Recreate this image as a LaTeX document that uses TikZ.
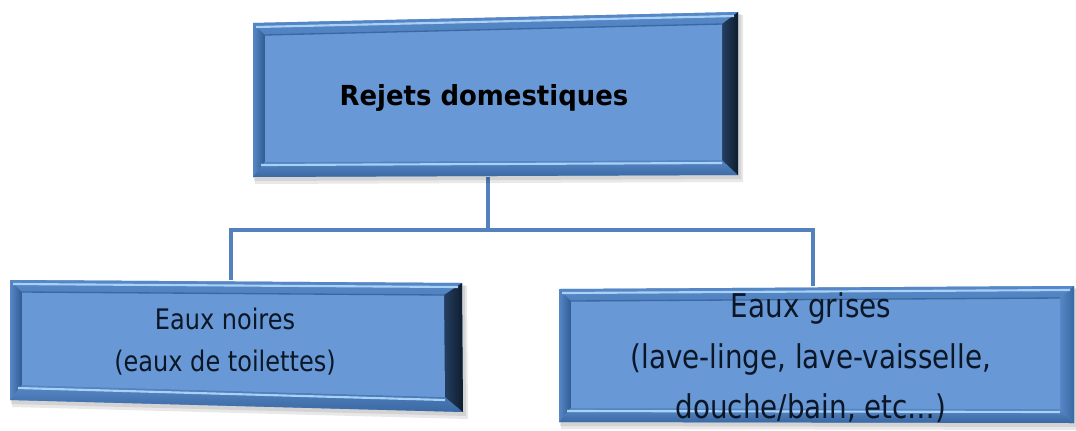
\documentclass[tikz,border=0pt]{standalone}
\usepackage{fontspec}
\setmainfont{DejaVu Sans}
\newfontfamily\boxfont[FakeStretch=0.85]{DejaVu Sans}
\newfontfamily\headfont[FakeStretch=0.94]{DejaVu Sans}
\usetikzlibrary{calc,fit}

\definecolor{face}{HTML}{6898D5}
\definecolor{bevhi}{HTML}{A9D0F5}
\definecolor{bevmid}{HTML}{5687C6}
\definecolor{bevlow}{HTML}{3A68A2}
\definecolor{bevshade}{HTML}{2F5B92}
\definecolor{bevdark}{HTML}{243F62}
\definecolor{bevdeep}{HTML}{0F1C2D}
\definecolor{linkblue}{HTML}{5281BE}
\definecolor{ink}{HTML}{0B1626}

\tikzset{
  boxarea/.style={draw=none, inner sep=0pt},
  link/.style={draw=linkblue, line width=2.3pt},
  boxshadow/.style={fill=black, opacity=0.09},
  bevtop/.style={top color=bevmid, bottom color=bevmid!85!bevlow},
  bevleft/.style={left color=bevmid, right color=bevshade},
  bevbot/.style={top color=bevmid, bottom color=bevlow},
  bevright/.style={left color=bevdark, right color=bevdeep},
  bevrightsoft/.style={left color=bevmid, right color=bevlow},
  hiline/.style={draw=bevhi, line width=1.6pt},
  boxtext/.style={text=ink, align=center, inner sep=0pt},
}

% bevelled panel: corners TL TR BR BL, bevel widths top right bottom left, right-bevel style
\newcommand\bevelpanel[9]{%
  \coordinate (o1) at #1; \coordinate (o2) at #2;
  \coordinate (o3) at #3; \coordinate (o4) at #4;
  \coordinate (i1) at ($(o1)+(#8,#5)$);
  \coordinate (i2) at ($(o2)+(-#6,#5)$);
  \coordinate (i3) at ($(o3)+(-#6,-#7)$);
  \coordinate (i4) at ($(o4)+(#8,-#7)$);
  \fill[boxshadow] ($(o1)+(2,3)$) -- ($(o2)+(5,3)$) -- ($(o3)+(5,7)$) -- ($(o4)+(2,7)$) -- cycle;
  \fill[boxshadow] ($(o1)+(1,2)$) -- ($(o2)+(3,2)$) -- ($(o3)+(3,4)$) -- ($(o4)+(1,4)$) -- cycle;
  \fill[face] (o1) -- (o2) -- (o3) -- (o4) -- cycle;
  \shade[bevtop] (o1) -- (o2) -- (i2) -- (i1) -- cycle;
  \shade[bevleft] (o1) -- (i1) -- (i4) -- (o4) -- cycle;
  \shade[bevbot] (o4) -- (i4) -- (i3) -- (o3) -- cycle;
  \shade[#9] (o2) -- (o3) -- (i3) -- (i2) -- cycle;
  \fill[face] (i1) -- (i2) -- (i3) -- (i4) -- cycle;
  % highlight stripes along the top and bottom bevels
  \draw[hiline] ($(o1)+(3,4)$) -- ($(o2)+(-4,4)$);
  \draw[hiline] ($(i4)+(-4,3)$) -- ($(i3)+(0,3)$);
  \draw[bevlow, line width=1pt] (i1) -- (i2);
}

\begin{document}
\begin{tikzpicture}[x=0.75pt, y=-0.75pt]
  \useasboundingbox[fill=white] (0,0) rectangle (1076,430);

  % box outlines used by the connectors
  \node[boxarea, fit={(253,12) (738,177)}] (topbox) {};
  \node[boxarea, fit={(10,280) (463,412)}] (noirbox) {};
  \node[boxarea, fit={(559,286) (1074,423)}] (grisbox) {};

  % tree connectors
  \coordinate (hub)  at (488,230);
  \coordinate (hubL) at (231,230);
  \coordinate (hubR) at (813,230);
  \draw[link] (hub |- topbox.south) -- (hub);
  \draw[link] (hubL |- noirbox.north) -- (hubL) -- (hubR) -- (hubR |- grisbox.north);

  % panels
  \bevelpanel{(253,23)}{(738,12)}{(738,175)}{(253,177)}{12}{16}{15}{12}{bevright}
  \bevelpanel{(10,280)}{(462,283)}{(463,412)}{(10,400)}{12}{18}{15}{12}{bevright}
  \bevelpanel{(559,289)}{(1074,286)}{(1074,423)}{(559,422)}{12}{14}{14}{12}{bevrightsoft}

  % labels
  \node[boxtext, font=\headfont\fontsize{20.7}{24}\selectfont\bfseries, text=black] (title) at (484,98) {Rejets domestiques};
  \node[boxtext, font=\boxfont\fontsize{21.2}{31.5}\selectfont] (noires) at (225,342) {Eaux noires\\(eaux de toilettes)};
  \node[boxtext, font=\boxfont\fontsize{24.5}{38}\selectfont] (grises) at (811,358) {Eaux grises\\(lave-linge, lave-vaisselle,\\douche/bain, etc…)};
\end{tikzpicture}
\end{document}
